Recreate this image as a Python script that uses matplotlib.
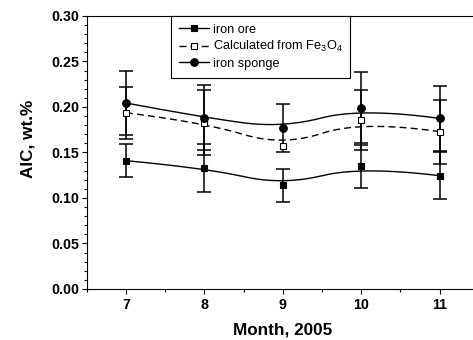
import numpy as np
import matplotlib
matplotlib.use("Agg")
import matplotlib.pyplot as plt
from matplotlib.ticker import MultipleLocator, FormatStrFormatter

plt.rcParams['font.family'] = ['Liberation Sans', 'DejaVu Sans']
plt.rcParams['mathtext.fontset'] = 'custom'
plt.rcParams['mathtext.rm'] = 'Liberation Sans'

months = [7, 8, 9, 10, 11]
iron_ore = [0.141, 0.133, 0.114, 0.135, 0.1245]
iron_ore_err = [0.018, 0.026, 0.018, 0.0235, 0.0255]
calc_fe3o4 = [0.1937, 0.1828, 0.1568, 0.1853, 0.1729]
calc_fe3o4_err = [0.0285, 0.036, np.nan, 0.033, 0.035]
iron_sponge = [0.2044, 0.1883, 0.1769, 0.1992, 0.1875]
iron_sponge_err = [0.035, 0.036, 0.0268, 0.0388, 0.036]


def bspline(xs, ys, k=2, n=200):
    # clamped B-spline using the data points as control polygon
    p = np.column_stack([xs, ys]).astype(float)
    m = len(p)
    nseg = m - k
    knots = np.concatenate([np.zeros(k), np.arange(nseg + 1), np.full(k, nseg)]).astype(float)
    t = np.linspace(0, nseg, n)
    t[-1] -= 1e-9

    def basis(i, d, tt):
        if d == 0:
            return ((knots[i] <= tt) & (tt < knots[i + 1])).astype(float)
        a = 0.0
        b = 0.0
        if knots[i + d] != knots[i]:
            a = (tt - knots[i]) / (knots[i + d] - knots[i]) * basis(i, d - 1, tt)
        if knots[i + d + 1] != knots[i + 1]:
            b = (knots[i + d + 1] - tt) / (knots[i + d + 1] - knots[i + 1]) * basis(i + 1, d - 1, tt)
        return a + b

    out = np.zeros((n, 2))
    for i in range(m):
        out += basis(i, k, t)[:, None] * p[i]
    return out[:, 0], out[:, 1]


fig = plt.figure(figsize=(4.73, 3.40), dpi=100)
ax = fig.add_axes([0.1833, 0.15, 0.829, 0.803])

series = [
    (iron_ore, iron_ore_err, 's', 'k', '-', 'iron ore'),
    (calc_fe3o4, calc_fe3o4_err, 's', 'white', (0, (5, 3)), 'Calculated from Fe$_3$O$_4$'),
    (iron_sponge, iron_sponge_err, 'o', 'k', '-', 'iron sponge'),
]

handles = []
labels = []
for vals, errs, mk, fc, ls, lab in series:
    ax.errorbar(months, vals, yerr=errs, fmt='none', ecolor='k', elinewidth=1.1,
                capsize=4.7, capthick=1.1, zorder=2)
    cx, cy = bspline(months, vals)
    ax.plot(cx, cy, color='k', lw=1.0, ls=ls, zorder=3)
    size = 5.0 if mk == 's' else 5.5
    ax.plot(months, vals, ls='none', marker=mk, ms=size,
            mfc=fc, mec='k', mew=0.8, zorder=4)
    h, = ax.plot([], [], color='k', lw=1.0, ls=ls, marker=mk,
                 ms=size, mfc=fc, mec='k', mew=0.8)
    handles.append(h)
    labels.append(lab)

ax.set_xlim(6.5, 11.5)
ax.set_ylim(0, 0.30)
ax.xaxis.set_major_locator(MultipleLocator(1))
ax.xaxis.set_minor_locator(MultipleLocator(0.5))
ax.yaxis.set_major_locator(MultipleLocator(0.05))
ax.yaxis.set_minor_locator(MultipleLocator(0.01))
ax.yaxis.set_major_formatter(FormatStrFormatter('%.2f'))

ax.tick_params(which='both', direction='out', top=False, right=False,
               labelsize=10.3, width=0.8)
ax.tick_params(which='major', length=3.8)
ax.tick_params(which='minor', length=2.0)
ax.tick_params(axis='x', which='major', pad=2.5)
ax.tick_params(axis='y', which='major', pad=1.8)
for lbl in ax.get_xticklabels() + ax.get_yticklabels():
    lbl.set_fontweight('bold')

for s in ax.spines.values():
    s.set_linewidth(0.8)

ax.set_xlabel('Month, 2005', fontsize=12.3, fontweight='bold', labelpad=7.5)
ax.set_ylabel('AIC, wt.%', fontsize=12.3, fontweight='bold', va='center')
ax.yaxis.set_label_coords(-0.15, 0.549)

leg = ax.legend(handles, labels, loc='upper left', bbox_to_anchor=(0.215, 1.0),
                borderaxespad=0, fontsize=9.2, handlelength=2.4,
                handletextpad=0.25, labelspacing=0.28, borderpad=0.6,
                fancybox=False, edgecolor='k', framealpha=1)
leg.get_frame().set_linewidth(0.8)

fig.savefig('out.png', dpi=100)
